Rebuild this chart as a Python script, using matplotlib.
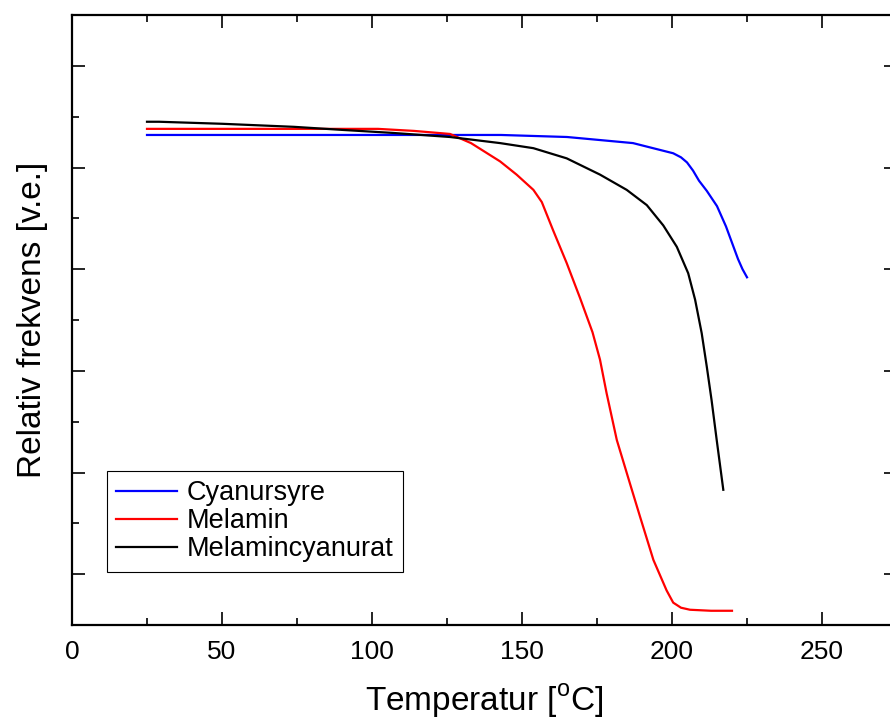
import matplotlib
matplotlib.use("Agg")
import matplotlib.pyplot as plt
from matplotlib.ticker import MultipleLocator, NullFormatter

plt.rcParams['font.family'] = ['Liberation Sans', 'DejaVu Sans']
plt.rcParams['mathtext.fontset'] = 'custom'
plt.rcParams['mathtext.rm'] = 'Liberation Sans'

# Kurver (temperatur i °C, relativ frekvens i vilkårlige enheder)
cyan_t = [25, 60, 100, 143, 165, 187, 200.4, 203, 205, 207, 209, 211.6, 215, 218, 220, 222, 223.5, 225]
cyan_f = [4.82, 4.82, 4.82, 4.82, 4.80, 4.74, 4.64, 4.60, 4.55, 4.47, 4.37, 4.27, 4.12, 3.92, 3.76, 3.60, 3.50, 3.42]

mel_t = [25, 60, 102, 114, 126, 133, 142.7, 148.2, 153.8, 156.6, 160.4, 164.9, 169.3, 173.5, 176,
         178.2, 181.6, 186, 189.3, 193.8, 198.2, 200.4, 203, 206, 213, 220]
mel_f = [4.88, 4.88, 4.88, 4.86, 4.83, 4.74, 4.56, 4.43, 4.28, 4.16, 3.88, 3.56, 3.22, 2.88, 2.61,
         2.28, 1.82, 1.39, 1.07, 0.64, 0.34, 0.22, 0.17, 0.15, 0.14, 0.14]

mc_t = [25, 29, 50, 74, 90, 107, 126, 142.7, 153.8, 164.9, 176, 184.9, 191.6, 197.1, 201.6, 205.4,
        207.7, 209.9, 211.6, 213.2, 214.9, 217.1]
mc_f = [4.95, 4.95, 4.93, 4.90, 4.87, 4.84, 4.80, 4.74, 4.69, 4.59, 4.43, 4.28, 4.13, 3.93, 3.72, 3.46,
        3.20, 2.87, 2.54, 2.21, 1.82, 1.33]

fig = plt.figure(figsize=(8.9, 7.2), dpi=100)
ax = fig.add_axes([72 / 890, 95 / 720, 825 / 890, 610 / 720])

ax.plot(cyan_t, cyan_f, color='#0000ff', lw=1.6, label='Cyanursyre')
ax.plot(mel_t, mel_f, color='#ff0000', lw=1.6, label='Melamin')
ax.plot(mc_t, mc_f, color='black', lw=1.6, label='Melamincyanurat')

ax.set_xlim(0, 275)
ax.set_ylim(0, 6)
ax.xaxis.set_major_locator(MultipleLocator(50))
ax.xaxis.set_minor_locator(MultipleLocator(25))
ax.set_yticks([0.5, 1.5, 2.5, 3.5, 4.5, 5.5])
ax.set_yticks([1, 2, 3, 4, 5], minor=True)
ax.yaxis.set_major_formatter(NullFormatter())

ax.tick_params(which='both', direction='in', top=True, right=True, width=1.2)
ax.tick_params(which='major', length=9.5, labelsize=19, pad=11)
ax.tick_params(which='minor', length=5)
for s in ax.spines.values():
    s.set_linewidth(1.6)

ax.set_xlabel(r'Temperatur [$^{\mathrm{o}}$C]', fontsize=24, labelpad=13)
ax.set_ylabel('Relativ frekvens [v.e.]', fontsize=24, labelpad=6)

leg = ax.legend(loc='lower left', bbox_to_anchor=(0.0424, 0.087), fontsize=19.5,
                frameon=True, fancybox=False, edgecolor='black', framealpha=1,
                handlelength=2.25, labelspacing=0.08, borderaxespad=0, borderpad=0.35,
                handletextpad=0.35)
leg.get_frame().set_linewidth(0.8)

fig.savefig('out.png', dpi=100)
